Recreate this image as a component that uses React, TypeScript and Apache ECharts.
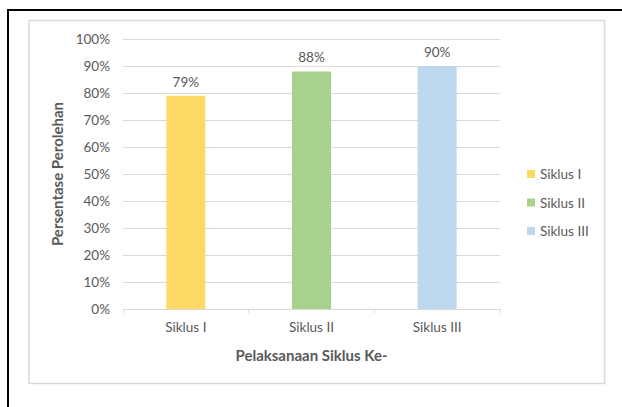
import React, { useEffect, useRef } from "react";
import * as echarts from "echarts";

const categories = ["Siklus I", "Siklus II", "Siklus III"];
const seriesNames = ["Siklus I", "Siklus II", "Siklus III"];
const values = [79, 88, 90];
const colors = ["#FFD966", "#A9D18E", "#BDD7EE"];
const yTicks = { min: 0, max: 100, interval: 10 };
const yTitle = "Persentase Perolehan";
const xTitle = "Pelaksanaan Siklus Ke-";

const FONT = "Lato";
const GRAY = "#595959";

export default function App() {
  const ref = useRef<HTMLDivElement>(null);
  useEffect(() => {
    if (!ref.current) return;
    const chart = echarts.init(ref.current, null, { renderer: "svg" });
    const series = seriesNames.map((name, i) => ({
      name,
      type: "bar",
      stack: "one",
      barWidth: 39,
      itemStyle: { color: colors[i] },
      data: categories.map((_, j) => (j === i ? values[i] : "-")),
      label: {
        show: true,
        position: "top",
        distance: 7,
        formatter: "{c}%",
        color: GRAY,
        fontFamily: FONT,
        fontSize: 13.5,
      },
    }));
    chart.setOption({
      animation: false,
      backgroundColor: "#ffffff",
      textStyle: { fontFamily: FONT },
      graphic: [
        {
          type: "line",
          shape: { x1: 8, y1: 10, x2: 622, y2: 10 },
          style: { stroke: "#000", lineWidth: 2 },
        },
        {
          type: "line",
          shape: { x1: 8, y1: 9, x2: 8, y2: 407 },
          style: { stroke: "#000", lineWidth: 2 },
        },
        {
          type: "rect",
          shape: { x: 29, y: 20.5, width: 575.5, height: 363 },
          style: { fill: "none", stroke: "#D9D9D9", lineWidth: 1.5 },
        },
      ],
      grid: { left: 123, right: 122, top: 39, bottom: 98 },
      legend: {
        orient: "vertical",
        left: 522,
        top: 161,
        itemWidth: 8,
        itemHeight: 8,
        itemGap: 12.5,
        icon: "rect",
        data: seriesNames,
        textStyle: { color: GRAY, fontFamily: FONT, fontSize: 13.5, lineHeight: 16 },
      },
      xAxis: {
        type: "category",
        data: categories,
        name: xTitle,
        nameLocation: "middle",
        nameGap: 38,
        nameTextStyle: { color: GRAY, fontFamily: FONT, fontSize: 15, fontWeight: "bold" },
        axisLine: { lineStyle: { color: "#D9D9D9" } },
        axisTick: { show: true, length: 4, lineStyle: { color: "#D9D9D9" } },
        axisLabel: { color: GRAY, fontFamily: FONT, fontSize: 13.5, margin: 11 },
      },
      yAxis: {
        type: "value",
        min: yTicks.min,
        max: yTicks.max,
        interval: yTicks.interval,
        name: yTitle,
        nameLocation: "middle",
        nameGap: 55,
        nameTextStyle: { color: GRAY, fontFamily: FONT, fontSize: 15, fontWeight: "bold" },
        axisLine: { show: false },
        axisTick: { show: false },
        axisLabel: { color: GRAY, fontFamily: FONT, fontSize: 13.5, margin: 13, formatter: "{value}%" },
        splitLine: { lineStyle: { color: "#D9D9D9" } },
      },
      series,
    });
    return () => chart.dispose();
  }, []);
  return (
    <div
      ref={ref}
      style={{ position: "absolute", left: 0, top: 0, width: 622, height: 407 }}
    />
  );
}
